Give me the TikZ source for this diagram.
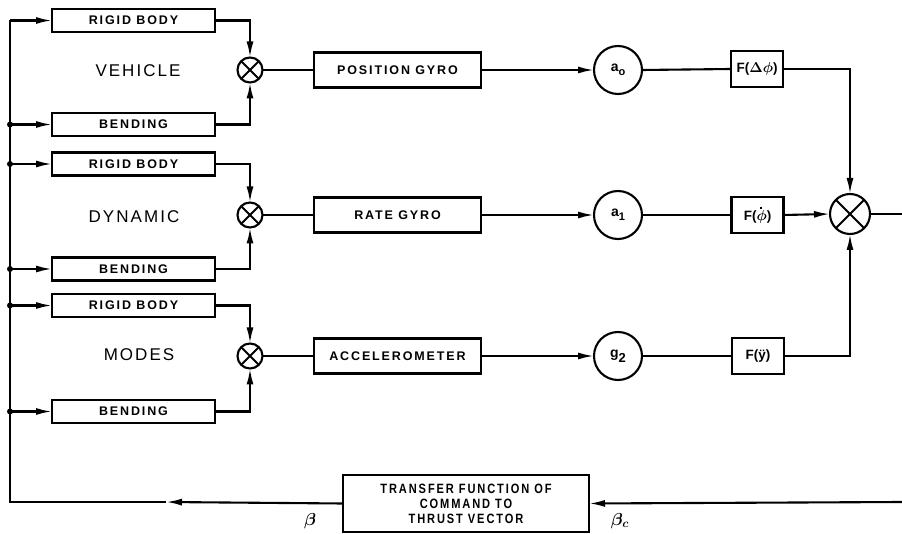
\documentclass[tikz,border=0pt]{standalone}
\usepackage{fontspec}
\usepackage{bm}
\setmainfont{Liberation Sans}
\newfontfamily\boxfont[LetterSpace=15]{Liberation Sans}
\newfontfamily\titlefont[LetterSpace=12]{Liberation Sans}
\newfontfamily\tffont[LetterSpace=14,FakeStretch=0.82]{Liberation Sans}
\usetikzlibrary{arrows.meta}
\begin{document}
\begin{tikzpicture}[x=1pt,y=-1pt,line width=2.1pt,
  >={Latex[length=16pt,width=7pt]},
  blk/.style={draw,rectangle,inner sep=0pt,outer sep=0pt,minimum height=23pt,
    font=\boxfont\bfseries\fontsize{12.5}{14}\selectfont},
  wide/.style={blk,minimum width=163pt},
  gyro/.style={blk,minimum width=167pt,minimum height=35pt},
  fbox/.style={draw,rectangle,inner sep=0pt,outer sep=0pt,minimum width=52pt,minimum height=36pt,
    font=\bfseries\fontsize{13.5}{15}\selectfont},
  gain/.style={draw,circle,inner sep=0pt,outer sep=0pt,minimum size=48pt,
    font=\bfseries\fontsize{14}{16}\selectfont},
  summ/.style={draw,circle,inner sep=0pt,outer sep=0pt,minimum size=#1},
  title/.style={font=\titlefont\fontsize{17}{19}\selectfont},
  dot/.style={fill,circle,inner sep=0pt,minimum size=6pt}
]
\useasboundingbox (0,0) rectangle (902,534);

% left column boxes
\node[wide] (rb1) at (133.5,20.5) {RIGID BODY};
\node[wide] (bd1) at (133.5,124.5) {BENDING};
\node[wide] (rb2) at (133.5,164) {RIGID BODY};
\node[wide] (bd2) at (133.5,269) {BENDING};
\node[wide] (rb3) at (133.5,305.5) {RIGID BODY};
\node[wide] (bd3) at (133.5,411.5) {BENDING};

\node[title] (t1) at (138,71) {VEHICLE};
\node[title] (t2) at (134,217) {DYNAMIC};
\node[title] (t3) at (139,355) {MODES};

% summing junctions
\node[summ=25pt] (s1) at (250,70) {};
\node[summ=25pt] (s2) at (250,215) {};
\node[summ=25pt] (s3) at (250,356) {};
\node[summ=40pt] (B) at (850,214) {};
\foreach \s in {s1,s2,s3,B}{
  \draw[line width=1.9pt] (\s.45) -- (\s.225) (\s.135) -- (\s.315);
}

% sensors
\node[gyro] (g1) at (397.5,70) {POSITION GYRO};
\node[gyro] (g2) at (397.5,215) {RATE GYRO};
\node[gyro] (g3) at (397.5,356) {ACCELEROMETER};

\node[gain] (c1) at (618,70) {a\raisebox{-4pt}{\fontsize{11}{12}\selectfont o}};
\node[gain] (c2) at (618,215) {a\raisebox{-4pt}{\fontsize{11}{12}\selectfont 1}};
\node[gain] (c3) at (618,356) {g\raisebox{-5pt}{\fontsize{13}{14}\selectfont 2}};

\node[fbox] (f1) at (757,69) {F($\bm{\Delta\phi}$)};
\node[fbox] (f2) at (757.5,215) {F(\rlap{\hspace{3.6pt}\raisebox{11pt}{\rule{2.3pt}{2.3pt}}}$\bm{\phi}$)};
\node[fbox] (f3) at (758,356) {F(ÿ)};

% transfer function
\node[draw,rectangle,inner sep=0pt,outer sep=0pt,minimum width=246pt,minimum height=57pt,
  align=center,font=\tffont\bfseries\fontsize{13.5}{15}\selectfont] (T) at (466,503.5)
  {TRANSFER FUNCTION OF\\COMMAND TO\\THRUST VECTOR};
\node[font=\fontsize{17}{19}\selectfont] (beta) at (310,521) {$\bm{\beta}$};
\node[font=\fontsize{17}{19}\selectfont] (betac) at (620,521) {$\bm{\beta_{c}}$};

% coordinates
\coordinate (TL) at (10,20.5);
\coordinate (BL) at (10,502);
\coordinate (BA) at (166,502);
\coordinate (d1) at (10,124.5);
\coordinate (d2) at (10,164);
\coordinate (d3) at (10,269);
\coordinate (d4) at (10,305.5);
\coordinate (d5) at (10,411.5);
\coordinate (Rin) at (902,502);
\coordinate (Rout) at (902,214);

% feedback path
\draw[->] (Rin) -- (T.east);
\draw[->] (T.west) -- (BA);
\draw (BA) -- (BL) -- (TL);
\draw[->] (TL) -- (rb1.west);
\foreach \d/\b in {d1/bd1,d2/rb2,d3/bd2,d4/rb3,d5/bd3}{
  \node[dot] at (\d) {};
  \draw[->] (\d) -- (\b.west);
}

% into summing junctions
\draw[->] (rb1.east) -| (s1.north);
\draw[->] (bd1.east) -| (s1.south);
\draw[->] (rb2.east) -| (s2.north);
\draw[->] (bd2.east) -| (s2.south);
\draw[->] (rb3.east) -| (s3.north);
\draw[->] (bd3.east) -| (s3.south);

% forward rows
\draw (s1.east) -- (g1.west);
\draw (s2.east) -- (g2.west);
\draw (s3.east) -- (g3.west);
\draw[->] (g1.east) -- (c1.west);
\draw[->] (g2.east) -- (c2.west);
\draw[->] (g3.east) -- (c3.west);
\draw (c1.east) -- (f1.west);
\draw (c2.east) -- (f2.west);
\draw (c3.east) -- (f3.west);
\draw[->] (f1.east) -| (B.north);
\draw[->] (f2.east) -- (B.west);
\draw[->] (f3.east) -| (B.south);
\draw (B.east) -- (Rout);
\end{tikzpicture}
\end{document}
